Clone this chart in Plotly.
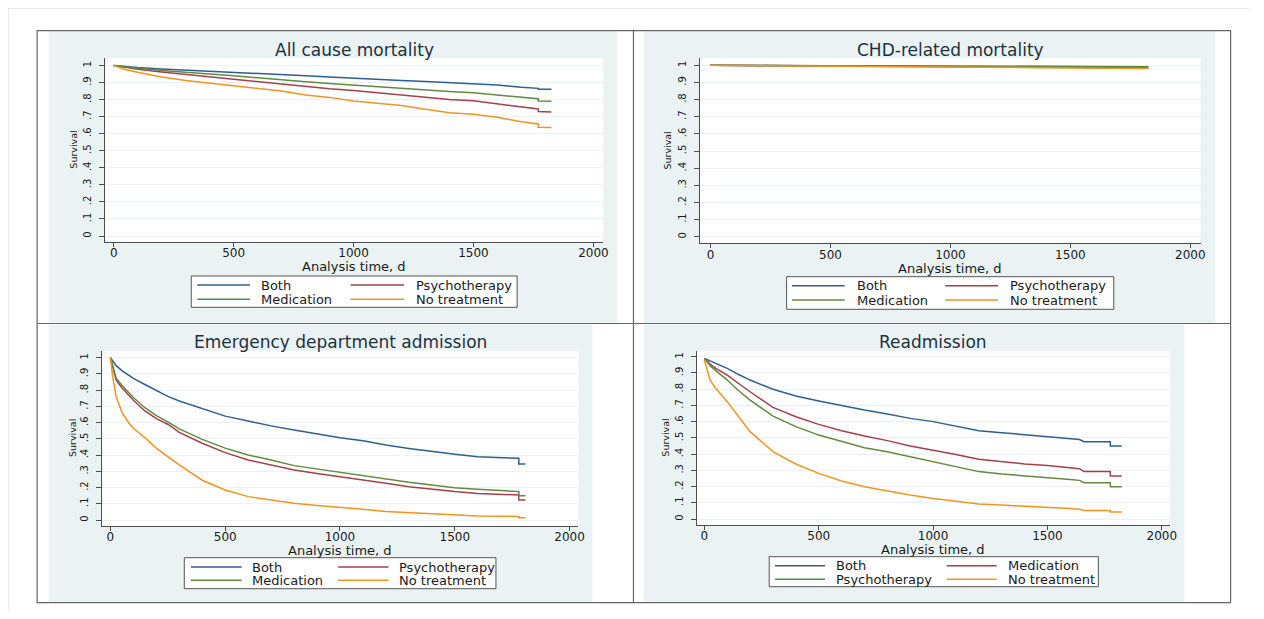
import plotly.graph_objects as go

# page offset of the plot div (browser default body margin)
OFF = 8
W, H = 1248, 603

# ------------------------------------------------------------------ data
panel_titles = ["All cause mortality", "CHD-related mortality",
                "Emergency department admission", "Readmission"]
x_ticks = [0, 500, 1000, 1500, 2000]
y_ticks = [0, 0.1, 0.2, 0.3, 0.4, 0.5, 0.6, 0.7, 0.8, 0.9, 1.0]
y_ticktext = ["0", ".1", ".2", ".3", ".4", ".5", ".6", ".7", ".8", ".9", "1"]
x_title = "Analysis time, d"
y_title = "Survival"

# legend order (row-major, 2 columns) per panel
legend_names_abc = ["Both", "Psychotherapy", "Medication", "No treatment"]
legend_names_d = ["Both", "Medication", "Psychotherapy", "No treatment"]

# --- All cause mortality
t_all = [0, 50, 100, 200, 300, 400, 500, 600, 700, 800, 900, 1000, 1100,
         1200, 1300, 1400, 1500, 1600, 1700, 1770, 1770, 1825]
all_both = [1.0, 0.993, 0.988, 0.980, 0.974, 0.968, 0.962, 0.955, 0.948, 0.940,
            0.933, 0.925, 0.918, 0.912, 0.906, 0.899, 0.894, 0.885, 0.872,
            0.866, 0.860, 0.860]
all_med = [1.0, 0.990, 0.984, 0.971, 0.962, 0.950, 0.940, 0.928, 0.915, 0.904,
           0.894, 0.884, 0.876, 0.868, 0.858, 0.847, 0.840, 0.826, 0.812,
           0.805, 0.792, 0.790]
all_psy = [1.0, 0.988, 0.978, 0.962, 0.948, 0.932, 0.920, 0.905, 0.890, 0.875,
           0.863, 0.853, 0.840, 0.828, 0.817, 0.800, 0.793, 0.776, 0.755,
           0.745, 0.730, 0.728]
all_none = [1.0, 0.975, 0.960, 0.932, 0.912, 0.896, 0.882, 0.864, 0.850, 0.827,
            0.813, 0.792, 0.778, 0.766, 0.743, 0.723, 0.714, 0.696, 0.670,
            0.657, 0.638, 0.637]

# --- CHD-related mortality
t_chd = [0, 300, 600, 900, 1200, 1500, 1650, 1825]
chd_both = [1.0, 0.999, 0.997, 0.996, 0.994, 0.993, 0.992, 0.991]
chd_med = [1.0, 0.998, 0.997, 0.995, 0.993, 0.991, 0.990, 0.990]
chd_psy = [1.0, 0.997, 0.995, 0.992, 0.990, 0.987, 0.985, 0.984]
chd_none = [1.0, 0.997, 0.994, 0.991, 0.988, 0.985, 0.983, 0.982]

# --- Emergency department admission
t_ed = [0, 10, 25, 50, 80, 100, 150, 200, 250, 300, 400, 500, 600, 700, 800,
        900, 1000, 1100, 1200, 1300, 1400, 1500, 1600, 1700, 1779, 1779, 1808]
ed_both = [1.0, 0.978, 0.951, 0.920, 0.890, 0.872, 0.835, 0.797, 0.762, 0.733,
           0.688, 0.640, 0.610, 0.580, 0.555, 0.532, 0.507, 0.489, 0.462,
           0.441, 0.421, 0.405, 0.390, 0.382, 0.380, 0.345, 0.345]
ed_med = [1.0, 0.950, 0.873, 0.830, 0.782, 0.755, 0.692, 0.643, 0.605, 0.561,
          0.497, 0.443, 0.400, 0.370, 0.335, 0.314, 0.294, 0.275, 0.250,
          0.232, 0.216, 0.199, 0.189, 0.179, 0.175, 0.150, 0.150]
ed_psy = [1.0, 0.945, 0.862, 0.815, 0.766, 0.738, 0.672, 0.625, 0.590, 0.540,
          0.473, 0.415, 0.370, 0.339, 0.308, 0.287, 0.267, 0.250, 0.226,
          0.205, 0.189, 0.175, 0.164, 0.156, 0.154, 0.123, 0.123]
ed_none = [1.0, 0.880, 0.760, 0.665, 0.598, 0.565, 0.508, 0.443, 0.390, 0.339,
           0.245, 0.185, 0.144, 0.123, 0.103, 0.090, 0.076, 0.066, 0.053,
           0.045, 0.037, 0.031, 0.025, 0.023, 0.022, 0.014, 0.014]

# --- Readmission
t_re = [0, 25, 50, 100, 150, 200, 300, 400, 500, 600, 700, 800, 900, 1000,
        1100, 1200, 1300, 1400, 1500, 1600, 1640, 1660, 1775, 1775, 1825]
re_both = [0.99, 0.975, 0.959, 0.928, 0.890, 0.856, 0.799, 0.758, 0.727, 0.698,
           0.671, 0.647, 0.620, 0.600, 0.573, 0.544, 0.532, 0.520, 0.507,
           0.497, 0.490, 0.476, 0.476, 0.450, 0.450]
re_med = [0.99, 0.955, 0.928, 0.887, 0.835, 0.784, 0.688, 0.630, 0.583, 0.544,
          0.511, 0.483, 0.450, 0.425, 0.398, 0.368, 0.353, 0.339, 0.329,
          0.318, 0.310, 0.292, 0.292, 0.265, 0.265]
re_psy = [0.99, 0.945, 0.914, 0.856, 0.790, 0.733, 0.634, 0.569, 0.517, 0.476,
          0.439, 0.415, 0.384, 0.353, 0.326, 0.292, 0.277, 0.267, 0.257,
          0.244, 0.238, 0.224, 0.224, 0.199, 0.199]
re_none = [0.98, 0.856, 0.805, 0.723, 0.630, 0.538, 0.415, 0.339, 0.281, 0.234,
           0.199, 0.172, 0.148, 0.127, 0.111, 0.092, 0.086, 0.080, 0.072,
           0.064, 0.060, 0.053, 0.053, 0.043, 0.043]

# ------------------------------------------------------------------ style
BLUE, RED, GREEN, ORANGE = "#2f5f8f", "#a3404c", "#628a3e", "#ef9520"
BG = "#EAF2F3"
AXC = "#4d4d4d"
FONT = "DejaVu Sans"

panel_series = [
    [("Both", t_all, all_both, BLUE), ("Psychotherapy", t_all, all_psy, RED),
     ("Medication", t_all, all_med, GREEN), ("No treatment", t_all, all_none, ORANGE)],
    [("Both", t_chd, chd_both, BLUE), ("Psychotherapy", t_chd, chd_psy, RED),
     ("Medication", t_chd, chd_med, GREEN), ("No treatment", t_chd, chd_none, ORANGE)],
    [("Both", t_ed, ed_both, BLUE), ("Psychotherapy", t_ed, ed_psy, RED),
     ("Medication", t_ed, ed_med, GREEN), ("No treatment", t_ed, ed_none, ORANGE)],
    [("Both", t_re, re_both, BLUE), ("Medication", t_re, re_med, RED),
     ("Psychotherapy", t_re, re_psy, GREEN), ("No treatment", t_re, re_none, ORANGE)],
]
legend_orders = [legend_names_abc, legend_names_abc, legend_names_abc, legend_names_d]

# layout geometry in page pixels
geo = [
    dict(plot=(106, 606.7, 58.3, 241.7), x0=114.3, x2k=596.7, y1=65.5, y0=236.0,
         bg=(49, 620.7, 31.2, 322.8), leg=(192.3, 520, 276, 307.3),
         lk=(6, 59, 68.5, 160.3, 214, 223.5), rows=(285, 299.3),
         title_y=50, xt_y=266.5, yt_x=73),
    dict(plot=(704.3, 1207.3, 58.3, 243.3), x0=714.5, x2k=1197, y1=65.3, y0=236.7,
         bg=(647.5, 1222.3, 31.2, 322.8), leg=(791, 1120, 276.7, 309.3),
         lk=(5.3, 58.4, 68.3, 159.5, 212.6, 222.4), rows=(285.7, 300),
         title_y=50, xt_y=268.5, yt_x=671.5),
    dict(plot=(102.7, 581.7, 350.7, 526), x0=111, x2k=572.7, y1=357.7, y0=520,
         bg=(49, 595.7, 324.2, 602), leg=(185.3, 498.7, 557.7, 588.7),
         lk=(6.7, 57.7, 66.5, 154.7, 205.4, 214.2), rows=(567, 580.3),
         title_y=342, xt_y=550.5, yt_x=73),
    dict(plot=(700.4, 1176.7, 350.7, 525), x0=708.3, x2k=1168.3, y1=356.7, y0=519,
         bg=(647.6, 1191, 324.2, 602), leg=(773.5, 1104.5, 556.7, 586.7),
         lk=(5.9, 56.1, 65.2, 178.6, 228.8, 237.9), rows=(565.7, 579.3),
         title_y=342, xt_y=549.5, yt_x=669.5),
]


def px(x):
    return (x - OFF) / W


def py(y):
    return 1 - (y - OFF) / H


fig = go.Figure()
shapes = []
annotations = []

# faint page border (top and left)
shapes.append(dict(type="line", xref="paper", yref="paper", x0=0, x1=1,
                   y0=1, y1=1, line=dict(color="#e2e2e2", width=1.5), layer="below"))
shapes.append(dict(type="line", xref="paper", yref="paper", x0=0, x1=0,
                   y0=0, y1=1, line=dict(color="#e2e2e2", width=1.5), layer="below"))

for i, g in enumerate(geo):
    k = "" if i == 0 else str(i + 1)
    L, R, T, B = g["plot"]
    ppd = (g["x2k"] - g["x0"]) / 2000.0
    ppu = g["y0"] - g["y1"]
    xr = [(L - g["x0"]) / ppd, (R - g["x0"]) / ppd]
    yr = [(g["y0"] - B) / ppu, (g["y0"] - T) / ppu]

    bx0, bx1, by0, by1 = g["bg"]
    shapes.append(dict(type="rect", xref="paper", yref="paper", x0=px(bx0), x1=px(bx1),
                       y0=py(by1), y1=py(by0), line=dict(width=0), fillcolor=BG,
                       layer="below"))
    shapes.append(dict(type="rect", xref="paper", yref="paper", x0=px(L), x1=px(R),
                       y0=py(B), y1=py(T), line=dict(width=0), fillcolor="white",
                       layer="below"))

    fig.update_layout(**{
        "xaxis" + k: dict(domain=[px(L), px(R)], range=xr, anchor="y" + k,
                          tickvals=x_ticks, showgrid=False, zeroline=False,
                          showline=True, linecolor=AXC, linewidth=1,
                          ticks="outside", ticklen=4, tickcolor=AXC, tickwidth=1,
                          ticklabelstandoff=-4,
                          tickfont=dict(family=FONT, size=12, color="#1a1a1a")),
        "yaxis" + k: dict(domain=[py(B), py(T)], range=yr, anchor="x" + k,
                          tickvals=y_ticks, ticktext=y_ticktext, tickangle=-90,
                          showgrid=True, gridcolor=BG, gridwidth=1.2, zeroline=False,
                          showline=True, linecolor=AXC, linewidth=1,
                          ticks="outside", ticklen=5, tickcolor=AXC, tickwidth=1,
                          ticklabelstandoff=4,
                          tickfont=dict(family=FONT, size=10, color="#1a1a1a")),
    })

    for name, xs, ys, col in panel_series[i]:
        fig.add_trace(go.Scatter(x=xs, y=ys, mode="lines", name=name,
                                 line=dict(color=col, width=1.5),
                                 xaxis="x" + k, yaxis="y" + k, showlegend=False,
                                 hoverinfo="skip"))

    cx = (L + R) / 2
    annotations.append(dict(text=panel_titles[i], xref="paper", yref="paper",
                            x=px(cx), y=py(g["title_y"]), xanchor="center",
                            yanchor="middle", showarrow=False,
                            font=dict(family=FONT, size=17, color="#1f3040")))
    annotations.append(dict(text=x_title, xref="paper", yref="paper",
                            x=px(cx), y=py(g["xt_y"]), xanchor="center",
                            yanchor="middle", showarrow=False,
                            font=dict(family=FONT, size=13, color="#1a1a1a")))
    annotations.append(dict(text=y_title, xref="paper", yref="paper",
                            x=px(g["yt_x"]), y=py((T + B) / 2), xanchor="center",
                            yanchor="middle", showarrow=False, textangle=-90,
                            font=dict(family=FONT, size=9.5, color="#1a1a1a")))

    lx0, lx1, ly0, ly1 = g["leg"]
    shapes.append(dict(type="rect", xref="paper", yref="paper", x0=px(lx0), x1=px(lx1),
                       y0=py(ly1), y1=py(ly0), line=dict(color="#555555", width=1),
                       fillcolor="white", layer="above"))
    colour_of = {s[0]: s[3] for s in panel_series[i]}
    k1a, k1b, t1, k2a, k2b, t2 = g["lk"]
    for j, name in enumerate(legend_orders[i]):
        row = j // 2
        colm = j % 2
        ka, kb, tx = (k1a, k1b, t1) if colm == 0 else (k2a, k2b, t2)
        yy = g["rows"][row]
        shapes.append(dict(type="line", xref="paper", yref="paper",
                           x0=px(lx0 + ka), x1=px(lx0 + kb), y0=py(yy), y1=py(yy),
                           line=dict(color=colour_of[name], width=1.6), layer="above"))
        annotations.append(dict(text=name, xref="paper", yref="paper",
                                x=px(lx0 + tx), y=py(yy), xanchor="left",
                                yanchor="middle", showarrow=False,
                                font=dict(family=FONT, size=13, color="#1a1a1a")))

FR = "#666666"
shapes.append(dict(type="rect", xref="paper", yref="paper", x0=px(37.3), x1=px(1237.5),
                   y0=py(602.7), y1=py(30.7), line=dict(color=FR, width=1.2),
                   fillcolor="rgba(0,0,0,0)", layer="above"))
shapes.append(dict(type="line", xref="paper", yref="paper", x0=px(637), x1=px(637),
                   y0=py(602.7), y1=py(30.7), line=dict(color=FR, width=1.2),
                   layer="above"))
shapes.append(dict(type="line", xref="paper", yref="paper", x0=px(37.3), x1=px(1237.5),
                   y0=py(323.5), y1=py(323.5), line=dict(color=FR, width=1.2),
                   layer="above"))

fig.update_layout(width=W, height=H, margin=dict(l=0, r=0, t=0, b=0),
                  paper_bgcolor="white", plot_bgcolor="white",
                  shapes=shapes, annotations=annotations, showlegend=False,
                  font=dict(family=FONT))

fig.write_html("out.html")
